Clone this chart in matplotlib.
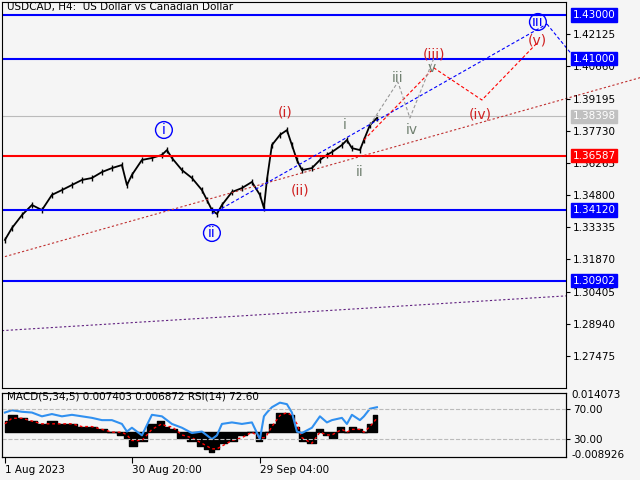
import matplotlib
matplotlib.use("Agg")
import matplotlib.pyplot as plt

# bar index (one bar per pixel column) and approximate H4 closes
bars = [3, 10, 20, 30, 40, 50, 60, 70, 80, 90, 100, 110, 120, 125, 130, 140, 150, 160,
        165, 170, 180, 190, 200, 205, 210, 215, 220, 230, 240, 250, 258, 262, 265, 270,
        278, 285, 290, 295, 300, 310, 318, 325, 330, 340, 345, 350, 358, 362, 368, 375]
closes = [1.3276, 1.3330, 1.3389, 1.3435, 1.3412, 1.3481, 1.3503, 1.3526, 1.3549, 1.3558,
          1.3585, 1.3603, 1.3617, 1.3526, 1.3572, 1.3640, 1.3649, 1.3663, 1.3685, 1.3649,
          1.3594, 1.3558, 1.3503, 1.3458, 1.3412, 1.3394, 1.3435, 1.3494, 1.3512, 1.3540,
          1.3481, 1.3421, 1.3549, 1.3708, 1.3754, 1.3776, 1.3708, 1.3640, 1.3594, 1.3603,
          1.3640, 1.3663, 1.3676, 1.3708, 1.3731, 1.3694, 1.3685, 1.3731, 1.3799, 1.3831]

levels = [1.43000, 1.41000, 1.36587, 1.34120, 1.30902]
level_colors = ["blue", "blue", "red", "blue", "blue"]
last_price = 1.38398
price_ticks = [1.42125, 1.40660, 1.39195, 1.37730, 1.36265, 1.34800, 1.33335,
               1.31870, 1.30405, 1.28940, 1.27475]

date_pos = [3, 130, 258]
date_labels = ["1 Aug 2023", "30 Aug 20:00", "29 Sep 04:00"]

macd = [4, 6, 5, 4, 3, 4, 3, 3, 2, 2, 1, 0, -1, -2, -5, -3, 3, 4, 2, 1, -2, -3, -5, -6,
        -7, -6, -4, -3, -1, 0, -3, -2, 0, 3, 7, 7, 6, 2, -3, -4, 1, -1, -2, 2, 0, 2, 1, 0, 3, 6]
signal = [3, 5, 5, 4, 3, 3, 3, 3, 2, 2, 1, 0, 0, -1, -3, -3, 1, 3, 2, 2, -1, -2, -4, -5,
          -6, -6, -5, -3, -2, 0, -2, -2, -1, 2, 6, 7, 6, 3, -2, -4, 0, -1, -1, 1, 0, 1, 1, 0, 2, 5]
rsi = [65, 68, 66, 65, 60, 63, 60, 62, 60, 58, 55, 55, 50, 40, 45, 35, 62, 60, 55, 50, 45,
       38, 40, 35, 30, 35, 50, 52, 50, 52, 30, 60, 65, 72, 78, 76, 65, 40, 38, 45, 60, 52,
       55, 58, 50, 62, 55, 60, 70, 72]

bg = "#f5f5f5"
fig = plt.figure(figsize=(6.4, 4.8), dpi=100, facecolor=bg)
ax = fig.add_axes([0.003, 1 - 388 / 480, 564 / 640, 386 / 480], facecolor=bg)
ax.set_xlim(0, 564)
ax.set_ylim(1.4300 - (388 - 15) / 2196.5, 1.4300 + 13 / 2196.5)

ax.plot(bars, closes, color="black", lw=1.3)
for b, c in zip(bars, closes):
    ax.vlines(b, c - 0.0012, c + 0.0012, color="black", lw=1)

for lv, col in zip(levels, level_colors):
    ax.axhline(lv, color=col, lw=1.5)
    ax.text(1.012, lv, f"{lv:.5f}", transform=ax.get_yaxis_transform(), color="white",
            fontsize=7.5, va="center", bbox=dict(boxstyle="square,pad=0.15", fc=col, ec=col))
ax.axhline(last_price, color="#bbbbbb", lw=0.8)
ax.text(1.012, last_price, f"{last_price:.5f}", transform=ax.get_yaxis_transform(),
        color="white", fontsize=7.5, va="center",
        bbox=dict(boxstyle="square,pad=0.15", fc="#c0c0c0", ec="#c0c0c0"))

# wave lines
ax.plot([3, 640], [1.3200, 1.4017], color="#c03030", ls=(0, (2, 2)), lw=0.8, clip_on=False)
ax.plot([0, 567], [1.2863, 1.3022], color="#602080", ls=(0, (2, 2)), lw=0.8)
ax.plot([210, 545], [1.3394, 1.4259], color="blue", ls=(0, (3, 2)), lw=0.8)
ax.plot([545, 570], [1.4259, 1.4120], color="blue", ls=(0, (3, 2)), lw=0.8, clip_on=False)
ax.plot([362, 432, 480, 535], [1.3731, 1.4059, 1.3913, 1.4172], color="red", ls=(0, (3, 2)), lw=0.8)
ax.plot([368, 396, 408, 432], [1.3799, 1.3995, 1.3831, 1.4104], color="#999999", ls=(0, (3, 2)), lw=0.8)

def lab(x, y, s, col, circ=False):
    kw = dict(boxstyle="circle,pad=0.1", fc="none", ec=col) if circ else None
    ax.text(x, 1.43 - (y - 15) / 2196.5, s, color=col, fontsize=10, ha="center",
            va="center", bbox=kw)

lab(162, 130, "i", "blue", True)
lab(210, 233, "ii", "blue", True)
lab(536, 22, "iii", "blue", True)
lab(283, 112, "(i)", "#d02020")
lab(298, 190, "(ii)", "#d02020")
lab(432, 55, "(iii)", "#d02020")
lab(478, 115, "(iv)", "#d02020")
lab(535, 40, "(v)", "#d02020")
lab(343, 125, "i", "#708070")
lab(358, 172, "ii", "#708070")
lab(396, 78, "iii", "#708070")
lab(410, 130, "iv", "#708070")
lab(430, 68, "v", "#708070")

ax.text(5, 1.43 + 5 / 2196.5, "USDCAD, H4:  US Dollar vs Canadian Dollar", fontsize=7.5)
ax.yaxis.tick_right()
ax.set_yticks(price_ticks)
ax.set_yticklabels([f"{t:.5f}" for t in price_ticks], fontsize=7.5)
ax.set_xticks([])
ax.tick_params(axis="y", length=3, pad=2)

# indicator panel
ix = fig.add_axes([0.003, 1 - 457 / 480, 564 / 640, 64 / 480], facecolor=bg)
ix.set_xlim(0, 564)
ix.set_ylim(-0.008926, 0.014073)
ix.fill_between(bars, 0, [m / 1000 for m in macd], color="black", step="mid")
ix.plot(bars, [s / 1000 for s in signal], color="red", ls=(0, (2, 2)), lw=1)
ix.set_yticks([])
ix.set_xticks(date_pos)
ix.set_xticklabels(date_labels, fontsize=7.5, ha="left")
ix.tick_params(axis="x", length=4, pad=2)
ix.text(1.01, 0.97, "0.014073", transform=ix.transAxes, fontsize=7.5, va="center")
ix.text(1.01, 0.03, "-0.008926", transform=ix.transAxes, fontsize=7.5, va="center")
r = ix.twinx()
r.set_ylim(6.5, 90.7)
r.plot(bars, rsi, color="#3090f0", lw=1.5)
for lvl in (70, 30):
    r.axhline(lvl, color="#bbbbbb", ls="--", lw=0.8)
r.set_yticks([70, 30])
r.set_yticklabels(["70.00", "30.00"], fontsize=7.5)
r.tick_params(axis="y", length=3, pad=2)
r.text(5, 82, "MACD(5,34,5) 0.007403 0.006872 RSI(14) 72.60", fontsize=7.5, zorder=5)

fig.savefig("out.png", dpi=100, facecolor=bg)
